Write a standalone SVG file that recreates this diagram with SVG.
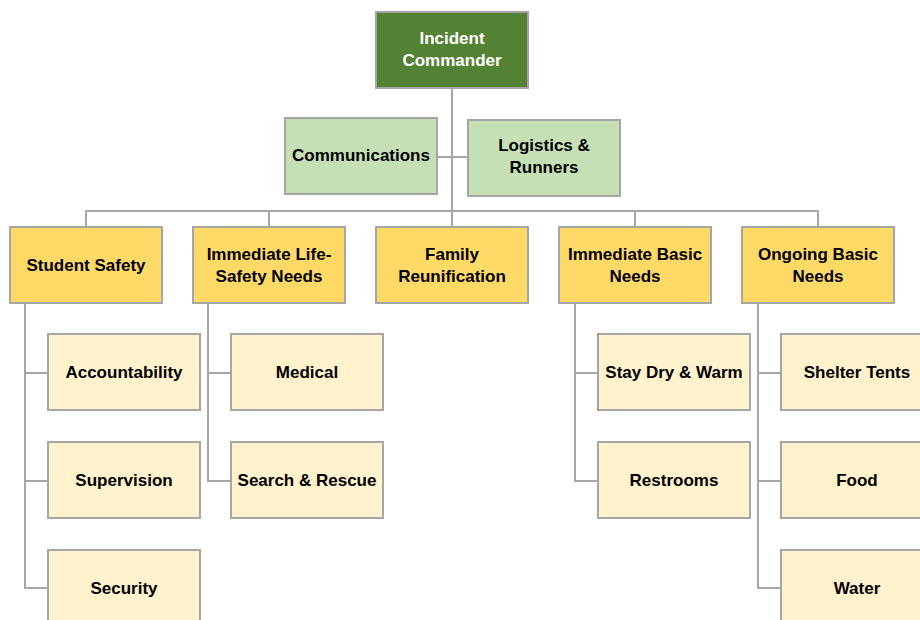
<svg xmlns="http://www.w3.org/2000/svg" width="920" height="620" viewBox="0 0 920 620">
<style>
.box{stroke:#A6A6A6;stroke-width:2}
.top{fill:#548235}
.staff{fill:#C5E0B4}
.sec{fill:#FFD966}
.unit{fill:#FFF2CC}
text{font-family:"Liberation Sans",Arial,sans-serif;font-weight:bold;font-size:17px;text-anchor:middle;fill:#000}
.w{fill:#fff}
.conn{fill:none;stroke:#A6A6A6;stroke-width:2}
</style>
<rect width="920" height="620" fill="#fff"/>
<g id="connectors" class="conn">
<path d="M452 88V227"/>
<path d="M437 157H467"/>
<path d="M86 227V211H818V227"/>
<path d="M269 211V227M635 211V227"/>
<path d="M25 303V588H48M25 373H48M25 481H48"/>
<path d="M208 303V481H231M208 373H231"/>
<path d="M575 303V481H598M575 373H598"/>
<path d="M758 303V588H781M758 373H781M758 481H781"/>
</g>
<g id="incident-commander"><rect class="box top" x="376" y="12" width="152" height="76"/><text class="w" x="452" y="44">Incident</text><text class="w" x="452" y="66">Commander</text></g>
<g id="communications"><rect class="box staff" x="285" y="118" width="152" height="76"/><text x="361" y="161">Communications</text></g>
<g id="logistics"><rect class="box staff" x="468" y="120" width="152" height="76"/><text x="544" y="151">Logistics &amp;</text><text x="544" y="173">Runners</text></g>
<g id="student-safety"><rect class="box sec" x="10" y="227" width="152" height="76"/><text x="86" y="271">Student Safety</text></g>
<g id="life-safety"><rect class="box sec" x="193" y="227" width="152" height="76"/><text x="269" y="260">Immediate Life-</text><text x="269" y="282">Safety Needs</text></g>
<g id="family-reunification"><rect class="box sec" x="376" y="227" width="152" height="76"/><text x="452" y="260">Family</text><text x="452" y="282">Reunification</text></g>
<g id="immediate-basic"><rect class="box sec" x="559" y="227" width="152" height="76"/><text x="635" y="260">Immediate Basic</text><text x="635" y="282">Needs</text></g>
<g id="ongoing-basic"><rect class="box sec" x="742" y="227" width="152" height="76"/><text x="818" y="260">Ongoing Basic</text><text x="818" y="282">Needs</text></g>
<g id="accountability"><rect class="box unit" x="48" y="334" width="152" height="76"/><text x="124" y="378">Accountability</text></g>
<g id="supervision"><rect class="box unit" x="48" y="442" width="152" height="76"/><text x="124" y="486">Supervision</text></g>
<g id="security"><rect class="box unit" x="48" y="550" width="152" height="76"/><text x="124" y="594">Security</text></g>
<g id="medical"><rect class="box unit" x="231" y="334" width="152" height="76"/><text x="307" y="378">Medical</text></g>
<g id="search-rescue"><rect class="box unit" x="231" y="442" width="152" height="76"/><text x="307" y="486">Search &amp; Rescue</text></g>
<g id="stay-dry"><rect class="box unit" x="598" y="334" width="152" height="76"/><text x="674" y="378">Stay Dry &amp; Warm</text></g>
<g id="restrooms"><rect class="box unit" x="598" y="442" width="152" height="76"/><text x="674" y="486">Restrooms</text></g>
<g id="shelter-tents"><rect class="box unit" x="781" y="334" width="152" height="76"/><text x="857" y="378">Shelter Tents</text></g>
<g id="food"><rect class="box unit" x="781" y="442" width="152" height="76"/><text x="857" y="486">Food</text></g>
<g id="water"><rect class="box unit" x="781" y="550" width="152" height="76"/><text x="857" y="594">Water</text></g>
</svg>
